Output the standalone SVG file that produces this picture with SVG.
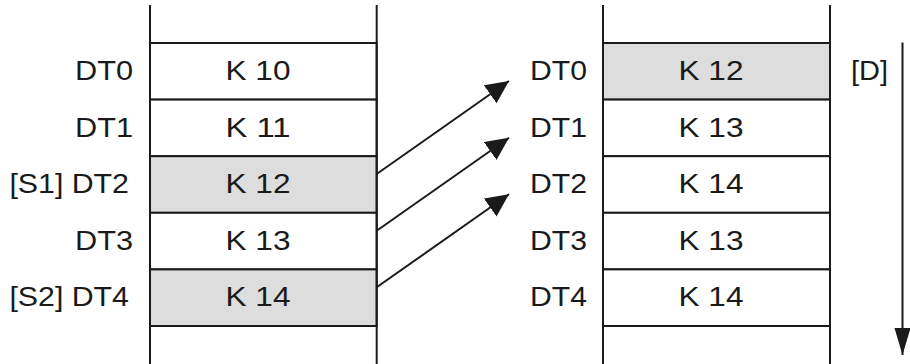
<svg xmlns="http://www.w3.org/2000/svg" width="910" height="364" viewBox="0 0 910 364">
<style>
.ln{stroke:#1a1a1a;stroke-width:2;fill:none}
.cell{stroke:#1a1a1a;stroke-width:2}
.w{fill:#ffffff}
.g{fill:#dcdddc}
text{font-family:"Liberation Sans",Arial,sans-serif;font-size:28.5px;fill:#1a1a1a}
.c{text-anchor:middle}
.e{text-anchor:end}
</style>
<defs>
<marker id="ah" markerUnits="userSpaceOnUse" markerWidth="26" markerHeight="24" refX="23" refY="11" orient="auto">
<path d="M0,0 L23,11 L0,22 Z" fill="#1a1a1a"/>
</marker>
<marker id="av" markerUnits="userSpaceOnUse" markerWidth="30" markerHeight="17" refX="27" refY="8" orient="auto">
<path d="M0,0 L27,8 L0,16 Z" fill="#1a1a1a"/>
</marker>
</defs>
<rect width="910" height="364" fill="#ffffff"/>

<g id="left-stack">
<rect class="cell w" x="150" y="43" width="226.7" height="56.6"/>
<rect class="cell w" x="150" y="99.6" width="226.7" height="56.6"/>
<rect class="cell g" x="150" y="156.2" width="226.7" height="56.6"/>
<rect class="cell w" x="150" y="212.8" width="226.7" height="56.6"/>
<rect class="cell g" x="150" y="269.4" width="226.7" height="56.6"/>
<line class="ln" x1="150" y1="5" x2="150" y2="364"/>
<line class="ln" x1="376.7" y1="5" x2="376.7" y2="364"/>
<text class="c" x="258" y="80" textLength="65" lengthAdjust="spacingAndGlyphs">K 10</text>
<text class="c" x="258" y="136.6" textLength="65" lengthAdjust="spacingAndGlyphs">K 11</text>
<text class="c" x="258" y="193.2" textLength="65" lengthAdjust="spacingAndGlyphs">K 12</text>
<text class="c" x="258" y="249.8" textLength="65" lengthAdjust="spacingAndGlyphs">K 13</text>
<text class="c" x="258" y="306.4" textLength="65" lengthAdjust="spacingAndGlyphs">K 14</text>
</g>

<g id="left-labels">
<text class="e" x="133" y="80" textLength="58" lengthAdjust="spacingAndGlyphs">DT0</text>
<text class="e" x="133" y="136.6" textLength="58" lengthAdjust="spacingAndGlyphs">DT1</text>
<text class="e" x="129" y="193.2" textLength="119.6" lengthAdjust="spacingAndGlyphs">[S1] DT2</text>
<text class="e" x="133" y="249.8" textLength="58" lengthAdjust="spacingAndGlyphs">DT3</text>
<text class="e" x="129" y="306.4" textLength="119.6" lengthAdjust="spacingAndGlyphs">[S2] DT4</text>
</g>

<g id="right-stack">
<rect class="cell g" x="603" y="43" width="227" height="56.6"/>
<rect class="cell w" x="603" y="99.6" width="227" height="56.6"/>
<rect class="cell w" x="603" y="156.2" width="227" height="56.6"/>
<rect class="cell w" x="603" y="212.8" width="227" height="56.6"/>
<rect class="cell w" x="603" y="269.4" width="227" height="56.6"/>
<line class="ln" x1="603" y1="5" x2="603" y2="364"/>
<line class="ln" x1="830" y1="5" x2="830" y2="364"/>
<text class="c" x="711" y="80" textLength="65" lengthAdjust="spacingAndGlyphs">K 12</text>
<text class="c" x="711" y="136.6" textLength="65" lengthAdjust="spacingAndGlyphs">K 13</text>
<text class="c" x="711" y="193.2" textLength="65" lengthAdjust="spacingAndGlyphs">K 14</text>
<text class="c" x="711" y="249.8" textLength="65" lengthAdjust="spacingAndGlyphs">K 13</text>
<text class="c" x="711" y="306.4" textLength="65" lengthAdjust="spacingAndGlyphs">K 14</text>
</g>

<g id="right-labels">
<text class="e" x="587" y="80" textLength="57" lengthAdjust="spacingAndGlyphs">DT0</text>
<text class="e" x="587" y="136.6" textLength="57" lengthAdjust="spacingAndGlyphs">DT1</text>
<text class="e" x="587" y="193.2" textLength="57" lengthAdjust="spacingAndGlyphs">DT2</text>
<text class="e" x="587" y="249.8" textLength="57" lengthAdjust="spacingAndGlyphs">DT3</text>
<text class="e" x="587" y="306.4" textLength="57" lengthAdjust="spacingAndGlyphs">DT4</text>
</g>

<g id="direction">
<text x="851" y="80" textLength="37" lengthAdjust="spacingAndGlyphs">[D]</text>
</g>

<g id="connectors">
<line class="ln" x1="376.7" y1="174" x2="509" y2="81" marker-end="url(#ah)"/>
<line class="ln" x1="376.7" y1="230.7" x2="509" y2="137.7" marker-end="url(#ah)"/>
<line class="ln" x1="376.7" y1="287.3" x2="509" y2="194.3" marker-end="url(#ah)"/>
<line class="ln" x1="902.5" y1="42.5" x2="902.5" y2="355" marker-end="url(#av)"/>
</g>
</svg>
